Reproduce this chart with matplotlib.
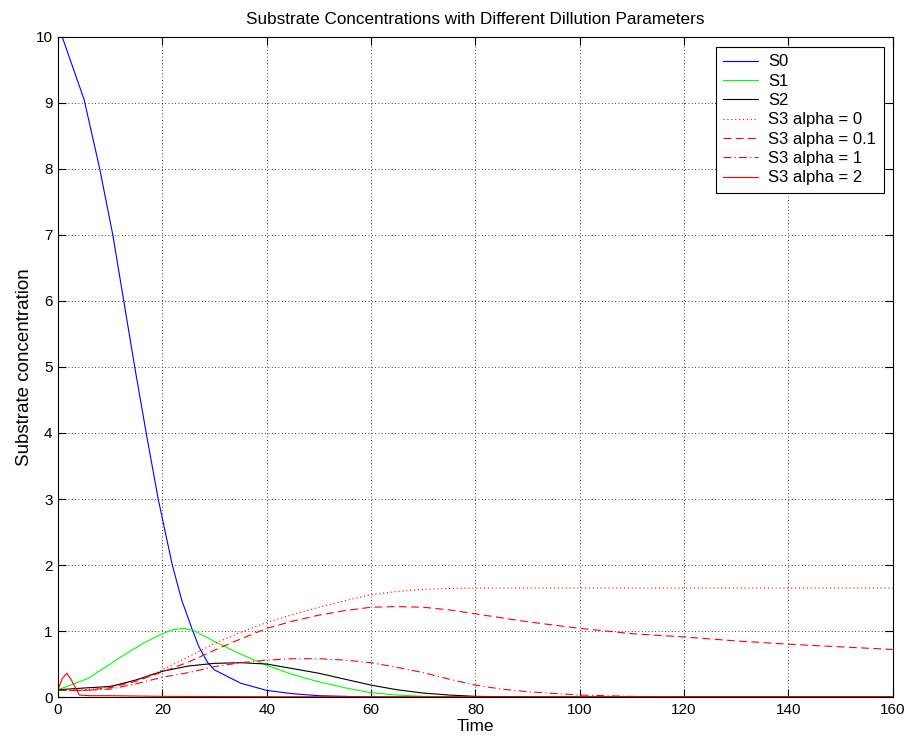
import matplotlib
matplotlib.use("Agg")
import matplotlib.pyplot as plt

# values (piecewise solver output)
t_s0 = [0, 0.8, 5, 8, 10.5, 12.6, 14.7, 16.9, 19.2, 21.9, 23.7, 25.6, 27, 28.7, 30, 35, 40, 45, 50, 55, 60, 70, 160]
s0 = [10, 10, 9.05, 8.0, 7.0, 6.0, 5.0, 4.0, 3.0, 2.0, 1.47, 1.05, 0.76, 0.52, 0.41, 0.21, 0.1, 0.05, 0.02, 0.01, 0.0, 0, 0]

t_s1 = [0, 5.7, 10, 12.1, 16, 20, 22, 24, 26, 30, 35, 40, 45, 50, 55, 60, 65, 70, 80, 160]
s1 = [0.11, 0.28, 0.5, 0.61, 0.8, 0.96, 1.02, 1.04, 1.01, 0.84, 0.65, 0.48, 0.34, 0.23, 0.14, 0.065, 0.03, 0.01, 0, 0]

t_s2 = [0, 5.7, 10, 12.1, 15, 20, 25, 30, 35, 40, 45, 50, 55, 60, 65, 70, 75, 80, 90, 160]
s2 = [0.11, 0.14, 0.16, 0.2, 0.26, 0.39, 0.47, 0.51, 0.52, 0.5, 0.43, 0.36, 0.27, 0.18, 0.11, 0.06, 0.03, 0.01, 0, 0]

t_a0 = [0, 5, 10, 15, 20, 25, 30, 35, 40, 45, 50, 55, 60, 65, 70, 75, 80, 160]
s3_a0 = [0.1, 0.11, 0.15, 0.25, 0.41, 0.61, 0.81, 0.98, 1.13, 1.25, 1.36, 1.46, 1.55, 1.6, 1.63, 1.645, 1.65, 1.65]

t_a01 = [0, 5, 10, 15, 20, 25, 30, 35, 40, 45, 50, 55, 60, 65, 70, 75, 80, 90, 100, 110, 120, 130, 140, 150, 160]
s3_a01 = [0.1, 0.1, 0.14, 0.24, 0.38, 0.53, 0.71, 0.88, 1.04, 1.15, 1.24, 1.31, 1.36, 1.37, 1.36, 1.32, 1.26, 1.14, 1.04, 0.96, 0.91, 0.85, 0.80, 0.76, 0.72]

t_a1 = [0, 5, 10, 15, 20, 25, 30, 35, 40, 45, 50, 55, 60, 65, 70, 75, 80, 85, 90, 100, 110, 120, 160]
s3_a1 = [0.1, 0.1, 0.12, 0.2, 0.3, 0.37, 0.46, 0.52, 0.56, 0.58, 0.58, 0.56, 0.52, 0.45, 0.37, 0.27, 0.18, 0.12, 0.08, 0.03, 0.01, 0, 0]

t_a2 = [0, 0.8, 1.7, 2.6, 4.1, 6, 10, 20, 40, 160]
s3_a2 = [0.11, 0.28, 0.36, 0.25, 0.03, 0.02, 0.02, 0.01, 0.005, 0]

plt.rcParams["font.family"] = ["Liberation Sans", "DejaVu Sans"]

fig = plt.figure(figsize=(9.11, 7.45), dpi=100)
ax = fig.add_axes([0.0637, 0.0644, 0.9163, 0.886])

lw = 0.8
ax.plot(t_s0, s0, color="#0000ff", lw=lw, label="S0")
ax.plot(t_s1, s1, color="#00ff00", lw=lw, label="S1")
ax.plot(t_s2, s2, color="black", lw=lw, label="S2")
ax.plot(t_a0, s3_a0, color="red", lw=lw, linestyle=(0, (1, 2.5)), label="S3 alpha = 0")
ax.plot(t_a01, s3_a01, color="red", lw=lw, linestyle=(0, (7, 4)), label="S3 alpha = 0.1")
ax.plot(t_a1, s3_a1, color="red", lw=lw, linestyle=(0, (7, 3, 1, 3)), label="S3 alpha = 1")
ax.plot(t_a2, s3_a2, color="red", lw=lw, label="S3 alpha = 2")

ax.set_xlim(0, 160)
ax.set_ylim(0, 10)
ax.set_xticks(range(0, 161, 20))
ax.set_yticks(range(0, 11))
ax.grid(True, color="black", linestyle=(0, (1, 3)), lw=0.6)
ax.tick_params(direction="in", top=True, right=True, length=6, labelsize=11, pad=4)
for s in ax.spines.values():
    s.set_linewidth(0.8)

ax.set_title("Substrate Concentrations with Different Dillution Parameters", fontsize=12.3, pad=9)
ax.set_xlabel("Time", fontsize=12.3, labelpad=2)
ax.set_ylabel("Substrate concentration", fontsize=13.5, labelpad=2)

leg = ax.legend(loc="upper right", bbox_to_anchor=(0.989, 0.985), borderaxespad=0,
                fontsize=12, fancybox=False, edgecolor="black", framealpha=1,
                handlelength=2.1, handletextpad=0.6, labelspacing=0.26, borderpad=0.45)
leg.get_frame().set_linewidth(0.8)

fig.savefig("out.png", dpi=100)
